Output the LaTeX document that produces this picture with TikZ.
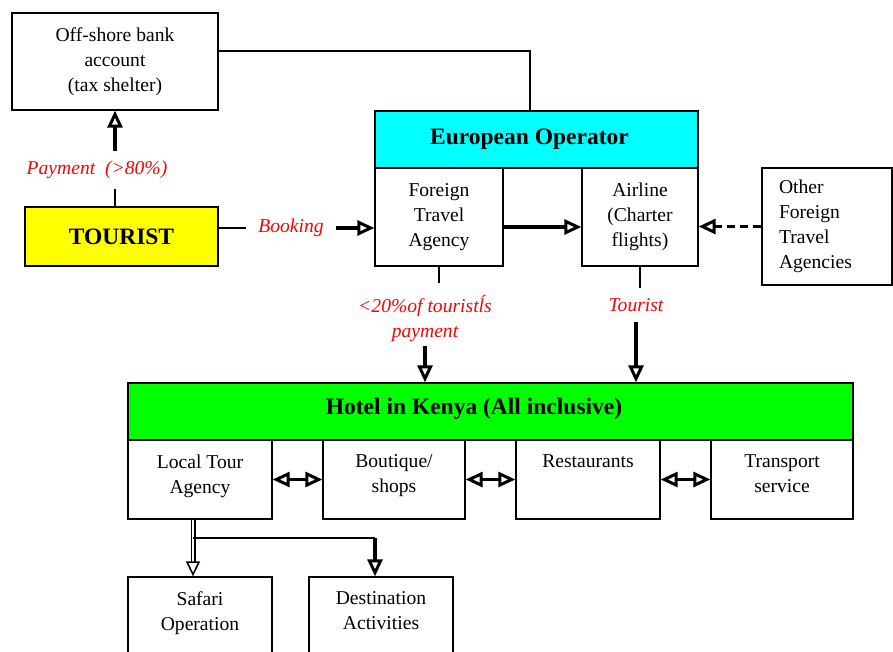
\documentclass[tikz,border=0pt]{standalone}
\usepackage{fontspec}
\setmainfont{Liberation Serif}
\usetikzlibrary{arrows.meta}
\definecolor{opcyan}{RGB}{0,255,255}
\definecolor{tourgold}{RGB}{255,255,0}
\definecolor{hotelgreen}{RGB}{0,255,0}
\newcommand\txtfont{\fontsize{19.6}{25}\selectfont}
\newcommand\headfont{\fontsize{23.5}{28}\selectfont\bfseries}
\tikzset{
  blk/.style={draw, line width=1.3pt, inner sep=0pt, align=center, font=\txtfont},
  head/.style={font=\headfont},
  note/.style={text=red, font=\txtfont\itshape, align=center, inner sep=10pt},
  link/.style={line width=1.3pt},
  arr/.style={line width=3.4pt, -{Triangle[open, length=17pt, width=15pt, line width=3pt]}},
  both/.style={line width=3.4pt, {Triangle[open, length=17pt, width=15pt, line width=3pt]}-{Triangle[open, length=17pt, width=15pt, line width=3pt]}},
}
\begin{document}
\begin{tikzpicture}[x=1pt, y=-1pt]
  \path[use as bounding box, clip] (0,0) rectangle (893,652);
  % top row
  \node[blk, minimum width=206pt, minimum height=97pt] (offshore) at (115,61.5) {Off-shore bank\\account\\(tax shelter)};
  \node[blk, head, fill=opcyan, minimum width=323pt, minimum height=57pt] (euro) at (536.5,139.5) {European Operator\hspace*{14pt}};
  \node[blk, minimum width=128pt, minimum height=98pt] (fta) at (439,217) {Foreign\\Travel\\Agency};
  \node[blk, minimum width=116pt, minimum height=98pt] (airline) at (640,217) {Airline\\(Charter\\flights)};
  \node[blk, align=left, text width=96pt, inner xsep=17pt, minimum height=117pt] (other) at (827,226.5) {Other\\Foreign\\Travel\\Agencies};
  \node[blk, head, fill=tourgold, minimum width=193pt, minimum height=59pt] (tourist) at (121.5,236.5) {TOURIST};
  % labels
  \node[note] (pay) at (97,170) {Payment~~(>80\%)};
  \node[note, inner xsep=12pt] (book) at (291,228) {Booking};
  \node[note, inner ysep=4pt] (share) at (425,318.5) {<20\%of touristĺs\\payment};
  \node[note] (tour) at (636,305) {Tourist};
  % hotel
  \node[blk, fill=hotelgreen, minimum width=725pt, minimum height=57pt] (hotel) at (490.5,411.5) {};
  \node[head] (hoteltxt) at (474,409) {Hotel in Kenya (All inclusive)};
  \foreach \n/\x/\w/\t in {lta/200/144/{Local Tour\\Agency}, bout/394/142/{Boutique/\\shops}, rest/588/144/{Restaurants}, trans/782/142/{Transport\\service}} {
    \node[blk, minimum width=\w pt, minimum height=79pt] (\n) at (\x,479.5) {};
    \node[blk, draw=none, anchor=north] (\n-t) at ([yshift=-15pt]\n.north) {\t};
  }
  \foreach \n/\x/\t in {safari/200/{Safari\\Operation}, dest/381/{Destination\\Activities}} {
    \node[blk, minimum width=144pt, minimum height=93pt] (\n) at (\x,623.5) {};
    \node[blk, draw=none, anchor=north] (\n-t) at ([yshift=-15pt]\n.north) {\t};
  }
  % connectors
  \draw[link] ([yshift=10.5pt]offshore.east) -| ([xshift=-6.5pt]euro.north);
  \draw[link] (tourist.north -| offshore.south) -- (pay.south -| offshore.south);
  \draw[arr] (pay.north -| offshore.south) -- (offshore.south);
  \draw[link] (book.west -| tourist.east) -- (book.west);
  \draw[arr] (book.east) -- (book.east -| fta.west);
  \draw[arr] ([yshift=-10pt]fta.east) -- ([yshift=-10pt]airline.west);
  \draw[arr, dash pattern=on 8pt off 5pt] (other.west) -- (other.west -| airline.east);
  \draw[link] (fta.south) -- ([yshift=8pt]share.north -| fta.south);
  \draw[arr] (share.south) -- (share.south |- hotel.north);
  \draw[link] (airline.south) -- (tour.north -| airline.south);
  \draw[arr] (tour.south) -- (tour.south |- hotel.north);
  \foreach \a/\b in {lta/bout, bout/rest, rest/trans}
    \draw[both] (\a.east) -- (\b.west);
  \coordinate (split) at (193,538);
  \coordinate (turn) at (375,538);
  \draw[line width=1.6pt, double, double distance=1.8pt, -{Triangle[open, length=15pt, width=14pt]}] ([xshift=-7pt]lta.south) -- ([xshift=-7pt]safari.north);
  \draw[link] (split) -- (turn);
  \draw[arr] (turn) -- (turn |- dest.north);
\end{tikzpicture}
\end{document}
